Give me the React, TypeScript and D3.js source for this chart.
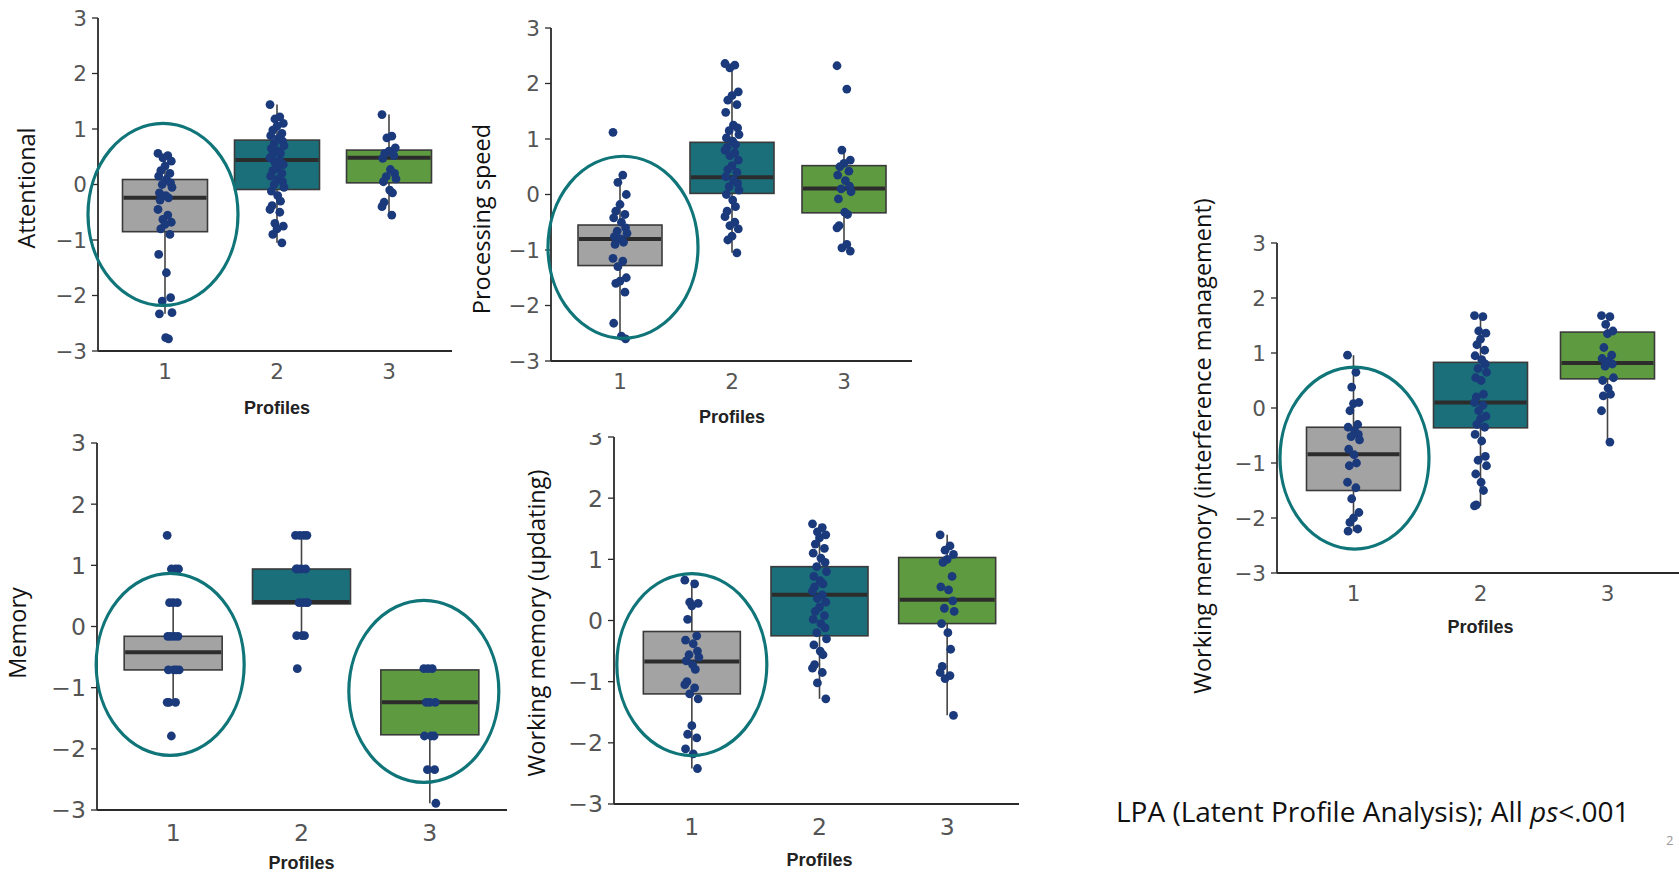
import React from "react";
import * as d3 from "d3";

// ---------- data ----------
const profiles = ["1", "2", "3"];
const yTicks = [-3, -2, -1, 0, 1, 2, 3];

// Attentional
const attentionalP1 = [0.56, 0.52, 0.48, 0.42, 0.33, 0.25, 0.2, 0.15, 0.09, 0.03, 0.0, -0.05, -0.15, -0.2, -0.24, -0.28, -0.45, -0.55, -0.63, -0.68, -0.72, -0.8, -0.9, -1.26, -1.59, -2.04, -2.1, -2.31, -2.33, -2.76, -2.78];
const attentionalP2 = [1.44, 1.22, 1.18, 1.1, 1.05, 0.98, 0.92, 0.88, 0.83, 0.78, 0.74, 0.7, 0.65, 0.6, 0.56, 0.52, 0.48, 0.44, 0.4, 0.36, 0.3, 0.25, 0.2, 0.15, 0.1, 0.05, 0.0, -0.05, -0.12, -0.2, -0.3, -0.38, -0.45, -0.5, -0.7, -0.75, -0.8, -0.9, -1.05];
const attentionalP3 = [1.26, 0.87, 0.84, 0.66, 0.6, 0.56, 0.52, 0.47, 0.27, 0.2, 0.14, 0.1, 0.05, -0.1, -0.15, -0.32, -0.4, -0.55];
const attentionalBoxes = [
  { lo: -2.33, q1: -0.85, med: -0.24, q3: 0.09, hi: 0.56 },
  { lo: -1.05, q1: -0.09, med: 0.44, q3: 0.8, hi: 1.44 },
  { lo: -0.55, q1: 0.03, med: 0.48, q3: 0.62, hi: 1.26 },
];

// Processing speed
const speedP1 = [1.12, 0.35, 0.22, 0.0, -0.18, -0.3, -0.36, -0.42, -0.5, -0.6, -0.66, -0.7, -0.76, -0.8, -0.86, -0.9, -1.15, -1.2, -1.3, -1.5, -1.56, -1.6, -1.76, -2.32, -2.55, -2.6];
const speedP2 = [2.36, 2.33, 2.28, 1.85, 1.78, 1.7, 1.62, 1.48, 1.25, 1.2, 1.15, 1.08, 1.02, 0.96, 0.9, 0.85, 0.8, 0.75, 0.7, 0.62, 0.52, 0.45, 0.4, 0.32, 0.26, 0.2, 0.14, 0.08, 0.0, -0.1, -0.22, -0.3, -0.4, -0.5, -0.56, -0.62, -0.75, -0.82, -1.05];
const speedP3 = [2.32, 1.9, 0.8, 0.62, 0.56, 0.5, 0.42, 0.35, 0.25, 0.15, 0.1, 0.05, -0.08, -0.32, -0.36, -0.56, -0.6, -0.9, -0.96, -1.02];
const speedBoxes = [
  { lo: -2.6, q1: -1.28, med: -0.8, q3: -0.55, hi: 0.35 },
  { lo: -1.05, q1: 0.02, med: 0.31, q3: 0.94, hi: 2.36 },
  { lo: -1.02, q1: -0.33, med: 0.11, q3: 0.52, hi: 0.8 },
];

// Memory
const memoryP1 = [1.49, 0.94, 0.94, 0.94, 0.39, 0.39, 0.39, -0.16, -0.16, -0.16, -0.16, -0.71, -0.71, -0.71, -0.71, -1.24, -1.24, -1.24, -1.79];
const memoryP2 = [1.49, 1.49, 1.49, 1.49, 0.94, 0.94, 0.94, 0.94, 0.39, 0.39, 0.39, 0.39, -0.15, -0.15, -0.15, -0.69];
const memoryP3 = [-0.69, -0.69, -0.69, -1.24, -1.24, -1.24, -1.79, -1.79, -1.79, -2.34, -2.34, -2.89];
const memoryBoxes = [
  { lo: -1.24, q1: -0.71, med: -0.42, q3: -0.16, hi: 0.39 },
  { lo: -0.15, q1: 0.37, med: 0.4, q3: 0.94, hi: 1.49 },
  { lo: -2.89, q1: -1.77, med: -1.24, q3: -0.71, hi: -0.71 },
];

// Working memory (updating)
const updatingP1 = [0.66, 0.6, 0.3, 0.28, 0.24, 0.02, -0.25, -0.32, -0.38, -0.5, -0.56, -0.6, -0.66, -0.72, -0.8, -1.0, -1.05, -1.1, -1.2, -1.28, -1.72, -1.86, -1.92, -2.1, -2.18, -2.42];
const updatingP2 = [1.58, 1.52, 1.45, 1.4, 1.35, 1.25, 1.18, 1.1, 1.02, 0.95, 0.88, 0.8, 0.72, 0.65, 0.6, 0.55, 0.48, 0.42, 0.36, 0.3, 0.22, 0.15, 0.08, 0.02, -0.05, -0.12, -0.2, -0.3, -0.4, -0.5, -0.56, -0.72, -0.78, -0.85, -1.02, -1.28];
const updatingP3 = [1.4, 1.22, 1.15, 1.08, 1.0, 0.95, 0.72, 0.55, 0.5, 0.32, 0.2, 0.15, -0.05, -0.2, -0.47, -0.75, -0.85, -0.9, -0.95, -1.55];
const updatingBoxes = [
  { lo: -2.42, q1: -1.2, med: -0.67, q3: -0.18, hi: 0.66 },
  { lo: -1.28, q1: -0.25, med: 0.42, q3: 0.88, hi: 1.58 },
  { lo: -1.55, q1: -0.05, med: 0.34, q3: 1.03, hi: 1.4 },
];

// Working memory (interference management)
const interferenceP1 = [0.96, 0.65, 0.38, 0.1, 0.08, -0.05, -0.3, -0.35, -0.42, -0.48, -0.52, -0.58, -0.75, -0.85, -1.0, -1.05, -1.35, -1.45, -1.65, -1.9, -2.0, -2.08, -2.2, -2.24];
const interferenceP2 = [1.68, 1.66, 1.4, 1.36, 1.25, 1.15, 1.05, 0.95, 0.88, 0.8, 0.72, 0.65, 0.55, 0.5, 0.25, 0.2, 0.1, 0.05, -0.05, -0.15, -0.2, -0.3, -0.35, -0.48, -0.6, -0.88, -0.95, -1.05, -1.2, -1.35, -1.5, -1.76, -1.78];
const interferenceP3 = [1.68, 1.66, 1.52, 1.4, 1.35, 1.1, 0.96, 0.9, 0.85, 0.8, 0.76, 0.55, 0.5, 0.36, 0.25, 0.22, -0.05, -0.62];
const interferenceBoxes = [
  { lo: -2.24, q1: -1.5, med: -0.84, q3: -0.35, hi: 0.96 },
  { lo: -1.78, q1: -0.36, med: 0.1, q3: 0.83, hi: 1.68 },
  { lo: -0.62, q1: 0.53, med: 0.82, q3: 1.38, hi: 1.68 },
];

const footnote = "LPA (Latent Profile Analysis); All ";

// ---------- styles ----------
const boxColors = ["#a3a3a3", "#1a6f7b", "#5e9b40"];
const dotColor = "#1b3a7c";
const ringColor = "#0f7579";
const jitterPattern = [-1, 0.4, -0.3, 0.9, 0, -0.6, 0.7, -0.9, 0.2, 0.8, -0.4, 1, -0.8, 0.1, 0.5, -0.7];
const tickFamily = "DejaVu Sans, Verdana, sans-serif";
const labelFamily = "Open Sans, Noto Sans, sans-serif";

type Box = { lo: number; q1: number; med: number; q3: number; hi: number };
type Ring = { cat: number; cy: number; dx: number; rx: number; ry: number };
type PanelCfg = {
  label: string;
  series: number[][];
  boxes: Box[];
  rings: Ring[];
  axisX: number;
  top: number;
  bottom: number;
  xEnd: number;
  band: [number, number];
  boxW: number;
  jitter: number;
  tickFont: number;
  labelX: number;
  labelY: number;
  catY: number;
  profY: number;
};

const panels: PanelCfg[] = [
  {
    label: "Attentional", series: [attentionalP1, attentionalP2, attentionalP3], boxes: attentionalBoxes,
    rings: [{ cat: 0, cy: -0.54, dx: -2, rx: 75, ry: 91 }],
    axisX: 98, top: 18, bottom: 351, xEnd: 452, band: [109, 445], boxW: 85, jitter: 7, tickFont: 21.5,
    labelX: 27, labelY: 188, catY: 371, profY: 408,
  },
  {
    label: "Processing speed", series: [speedP1, speedP2, speedP3], boxes: speedBoxes,
    rings: [{ cat: 0, cy: -0.95, dx: 3, rx: 75, ry: 91 }],
    axisX: 551, top: 28, bottom: 361, xEnd: 912, band: [564, 900], boxW: 84, jitter: 7, tickFont: 21.5,
    labelX: 482, labelY: 219, catY: 381, profY: 417,
  },
  {
    label: "Memory", series: [memoryP1, memoryP2, memoryP3], boxes: memoryBoxes,
    rings: [
      { cat: 0, cy: -0.62, dx: -3, rx: 74, ry: 91 },
      { cat: 2, cy: -1.06, dx: -6, rx: 75, ry: 91 },
    ],
    axisX: 97, top: 443, bottom: 810, xEnd: 507, band: [109, 494], boxW: 98, jitter: 6, tickFont: 23.5,
    labelX: 18, labelY: 633, catY: 833, profY: 863,
  },
  {
    label: "Working memory (updating)", series: [updatingP1, updatingP2, updatingP3], boxes: updatingBoxes,
    rings: [{ cat: 0, cy: -0.72, dx: 0, rx: 75, ry: 91 }],
    axisX: 614, top: 437, bottom: 804, xEnd: 1019, band: [628, 1011], boxW: 97, jitter: 7, tickFont: 23.5,
    labelX: 537, labelY: 623, catY: 827, profY: 860,
  },
  {
    label: "Working memory (interference management)", series: [interferenceP1, interferenceP2, interferenceP3], boxes: interferenceBoxes,
    rings: [{ cat: 0, cy: -0.91, dx: 1, rx: 74.5, ry: 91 }],
    axisX: 1277, top: 243, bottom: 573, xEnd: 1690, band: [1290, 1671], boxW: 94, jitter: 6, tickFont: 21.5,
    labelX: 1203, labelY: 446, catY: 593, profY: 627,
  },
];

const fmt = d3.format("d");

function Panel({ p }: { p: PanelCfg }) {
  const x = d3.scaleBand<string>().domain(profiles).range(p.band).padding(0);
  const y = d3.scaleLinear().domain([-3, 3]).range([p.bottom, p.top]);
  const cx = (i: number) => (x(profiles[i]) as number) + x.bandwidth() / 2;
  return (
    <g>
      {/* axes */}
      <line x1={p.axisX} x2={p.axisX} y1={y(3)} y2={y(-3)} stroke="#2a2a2a" strokeWidth={1.8} />
      <line x1={p.axisX} x2={p.xEnd} y1={y(-3)} y2={y(-3)} stroke="#2a2a2a" strokeWidth={1.8} />
      {yTicks.map((t) => (
        <g key={t}>
          <line x1={p.axisX - 6} x2={p.axisX} y1={y(t)} y2={y(t)} stroke="#2a2a2a" strokeWidth={1.3} />
          <text x={p.axisX - 11} y={y(t)} dy="0.36em" textAnchor="end" fontSize={p.tickFont}
            fontFamily={tickFamily} fill="#555">{fmt(t)}</text>
        </g>
      ))}
      {profiles.map((c, i) => (
        <text key={c} x={cx(i)} y={p.catY} dy="0.36em" textAnchor="middle" fontSize={p.tickFont}
          fontFamily={tickFamily} fill="#555">{c}</text>
      ))}
      <text x={(p.band[0] + p.band[1]) / 2} y={p.profY} dy="0.36em" textAnchor="middle" fontSize={18}
        fontWeight="bold" fontFamily="Liberation Sans, Arial, sans-serif" fill="#222">Profiles</text>
      <text transform={`translate(${p.labelX},${p.labelY}) rotate(-90)`} textAnchor="middle" dy="0.36em"
        fontSize={23.5} fontFamily={labelFamily} fill="#111">{p.label}</text>

      {/* boxes */}
      {p.boxes.map((b, i) => {
        const c = cx(i);
        return (
          <g key={i}>
            <line x1={c} x2={c} y1={y(b.hi)} y2={y(b.q3)} stroke="#444" strokeWidth={1.6} />
            <line x1={c} x2={c} y1={y(b.q1)} y2={y(b.lo)} stroke="#444" strokeWidth={1.6} />
            <rect x={c - p.boxW / 2} width={p.boxW} y={y(b.q3)} height={y(b.q1) - y(b.q3)}
              fill={boxColors[i]} stroke="#3a3a3a" strokeWidth={1.6} />
            <line x1={c - p.boxW / 2 + 1} x2={c + p.boxW / 2 - 1} y1={y(b.med)} y2={y(b.med)}
              stroke="#2c2c2c" strokeWidth={4} />
          </g>
        );
      })}

      {/* points */}
      {p.series.map((vals, i) =>
        vals.map((v, j) => (
          <circle key={`${i}-${j}`} cx={cx(i) + jitterPattern[j % jitterPattern.length] * p.jitter}
            cy={y(v)} r={4.4} fill={dotColor} />
        ))
      )}

      {/* highlight rings */}
      {p.rings.map((r, k) => (
        <ellipse key={k} cx={cx(r.cat) + r.dx} cy={y(r.cy)} rx={r.rx} ry={r.ry}
          fill="none" stroke={ringColor} strokeWidth={3.2} />
      ))}
    </g>
  );
}

export default function App() {
  return (
    <svg width={1679} height={875} style={{ position: "absolute", left: 0, top: 0, background: "#fff" }}>
      <rect x={0} y={0} width={1679} height={875} fill="#fff" />
      {panels.map((p, i) => (
        <Panel key={i} p={p} />
      ))}
      {/* top of the "3" label in the updating panel is cut off in the slide */}
      <rect x={570} y={420} width={40} height={13} fill="#fff" />
      <text x={1116} y={812} dy="0.36em" fontSize={28} fontFamily={labelFamily} fill="#111">
        {footnote}
        <tspan fontStyle="italic">ps</tspan>
        {"<.001"}
      </text>
      <text x={1666} y={845} fontSize={13} fontFamily={labelFamily} fill="#999">2</text>
    </svg>
  );
}
